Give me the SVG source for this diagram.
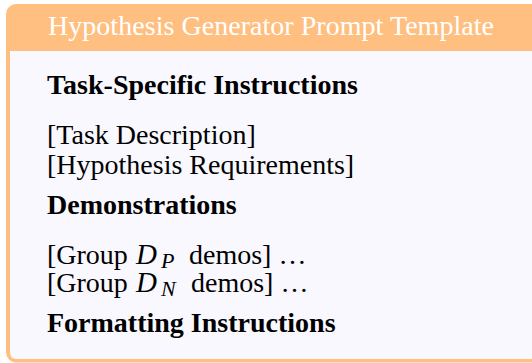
<svg xmlns="http://www.w3.org/2000/svg" width="532" height="363" viewBox="0 0 532 363">
<style>
.t{font-family:"Liberation Serif","Times New Roman",serif;font-size:28px;fill:#000}
.b{font-weight:bold}
.h{fill:#ffffff}
.m{font-style:italic;font-size:29px}
.s{font-style:italic;font-size:22px}
</style>
<g id="frame">
<rect x="6" y="4" width="540" height="358.5" rx="10" ry="10" fill="#FFBF80"/>
<path d="M10 51 H536 V353 A6 6 0 0 1 530 359 H16 A6 6 0 0 1 10 353 Z" fill="#F9F8FF"/>
</g>
<g id="title">
<text class="t h" x="48" y="34.5" textLength="446" lengthAdjust="spacing">Hypothesis Generator Prompt Template</text>
</g>
<g id="body">
<text class="t b" x="47" y="94">Task-Specific Instructions</text>
<text class="t" x="47" y="143.5">[Task Description]</text>
<text class="t" x="47" y="173.5">[Hypothesis Requirements]</text>
<text class="t b" x="47" y="213.5">Demonstrations</text>
<text class="t" x="47" y="263.5">[Group <tspan class="m" x="136">D</tspan><tspan class="s" x="161" y="268">P</tspan><tspan x="182" y="263.5"> demos] …</tspan></text>
<text class="t" x="47" y="291.5">[Group <tspan class="m" x="136">D</tspan><tspan class="s" x="161" y="296">N</tspan><tspan x="184" y="291.5"> demos] …</tspan></text>
<text class="t b" x="47" y="331.5">Formatting Instructions</text>
</g>
</svg>
